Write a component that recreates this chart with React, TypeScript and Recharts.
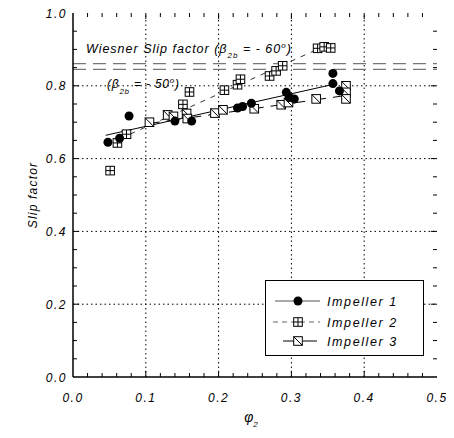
import React from 'react';
import {
  ScatterChart,
  Scatter,
  XAxis,
  YAxis,
  ReferenceLine,
  ReferenceDot,
  Legend,
  Label,
} from 'recharts';

// ---- data (phi_2 vs slip factor) ----
const impeller1 = [
  { x: 0.048, y: 0.645 }, { x: 0.064, y: 0.656 }, { x: 0.077, y: 0.717 },
  { x: 0.140, y: 0.703 }, { x: 0.163, y: 0.703 }, { x: 0.226, y: 0.739 },
  { x: 0.233, y: 0.743 }, { x: 0.245, y: 0.752 }, { x: 0.293, y: 0.782 },
  { x: 0.297, y: 0.768 }, { x: 0.304, y: 0.764 }, { x: 0.357, y: 0.834 },
  { x: 0.357, y: 0.806 }, { x: 0.366, y: 0.786 },
];
const impeller2 = [
  { x: 0.051, y: 0.567 }, { x: 0.061, y: 0.643 }, { x: 0.0735, y: 0.667 },
  { x: 0.151, y: 0.749 }, { x: 0.160, y: 0.783 }, { x: 0.208, y: 0.788 },
  { x: 0.226, y: 0.803 }, { x: 0.230, y: 0.818 }, { x: 0.270, y: 0.827 },
  { x: 0.279, y: 0.841 }, { x: 0.288, y: 0.855 }, { x: 0.336, y: 0.903 },
  { x: 0.345, y: 0.907 }, { x: 0.354, y: 0.904 },
];
const impeller3 = [
  { x: 0.105, y: 0.700 }, { x: 0.130, y: 0.720 }, { x: 0.138, y: 0.716 },
  { x: 0.156, y: 0.724 }, { x: 0.157, y: 0.710 }, { x: 0.195, y: 0.725 },
  { x: 0.206, y: 0.734 }, { x: 0.249, y: 0.737 }, { x: 0.286, y: 0.748 },
  { x: 0.296, y: 0.754 }, { x: 0.334, y: 0.764 }, { x: 0.375, y: 0.800 },
  { x: 0.375, y: 0.782 }, { x: 0.375, y: 0.764 },
];
const fit1 = [{ x: 0.045, y: 0.664 }, { x: 0.36, y: 0.805 }];
const fit2 = [{ x: 0.065, y: 0.655 }, { x: 0.33, y: 0.895 }];
const fit3 = [{ x: 0.10, y: 0.695 }, { x: 0.37, y: 0.772 }];
const wiesnerLevels = [0.861, 0.845];
const wiesner60Anchor = { x: 0.0178, y: 0.89 };
const wiesner50Anchor = { x: 0.0466, y: 0.795 };

const xMajorTicks = [0, 0.1, 0.2, 0.3, 0.4, 0.5];
const yMajorTicks = [0, 0.2, 0.4, 0.6, 0.8, 1.0];
const xMinorTicks = [0.02, 0.04, 0.06, 0.08, 0.12, 0.14, 0.16, 0.18, 0.22, 0.24, 0.26, 0.28,
  0.32, 0.34, 0.36, 0.38, 0.42, 0.44, 0.46, 0.48];
const yMinorTicks = [0.05, 0.1, 0.15, 0.25, 0.3, 0.35, 0.45, 0.5, 0.55, 0.65, 0.7, 0.75, 0.85, 0.9, 0.95];
const xGrid = [0.1, 0.2, 0.3, 0.4];
const yGrid = [0.2, 0.4, 0.6, 0.8];
const seriesNames = ['Impeller 1', 'Impeller 2', 'Impeller 3'];

const X_MIN = 0, X_MAX = 0.5, Y_MIN = 0, Y_MAX = 1;
// tick mark lengths expressed in axis units (inward ticks)
const XT_MAJOR = 0.017, XT_MINOR = 0.011; // vertical ticks (y units)
const YT_MAJOR = 0.0085, YT_MINOR = 0.0055; // horizontal ticks (x units)

const FONT = '"Liberation Sans", Arial, Helvetica, sans-serif';

const BottomTickLabel = (props: any) => {
  const x = Number(props.x);
  const y = Number(props.y);
  const v = Number(props.payload.value);
  return (
    <text x={x} y={y + 19} textAnchor="middle" fontFamily={FONT} fontStyle="italic"
      fontSize={12} letterSpacing={1.5} fill="#000" stroke="none">{v.toFixed(1)}</text>
  );
};
const LeftTickLabel = (props: any) => {
  const x = Number(props.x);
  const y = Number(props.y);
  const v = Number(props.payload.value);
  return (
    <text x={x} y={y + 4.5} textAnchor="end" fontFamily={FONT} fontStyle="italic"
      fontSize={12} letterSpacing={1.5} fill="#000" stroke="none">{v.toFixed(1)}</text>
  );
};

const CircleMark = (p: any) => <circle cx={p.cx} cy={p.cy} r={4.5} fill="#000" />;
const CrossSquare = (p: any) => {
  const s = 4.3;
  return (
    <g stroke="#000" strokeWidth={1}>
      <rect x={p.cx - s} y={p.cy - s} width={2 * s} height={2 * s} fill="#fff" />
      <line x1={p.cx} y1={p.cy - s} x2={p.cx} y2={p.cy + s} />
      <line x1={p.cx - s} y1={p.cy} x2={p.cx + s} y2={p.cy} />
    </g>
  );
};
const DiagSquare = (p: any) => {
  const s = 4.3;
  return (
    <g stroke="#000" strokeWidth={1}>
      <rect x={p.cx - s} y={p.cy - s} width={2 * s} height={2 * s} fill="#fff" />
      <line x1={p.cx - s} y1={p.cy - s} x2={p.cx + s} y2={p.cy + s} />
    </g>
  );
};
const NoMark = () => <g />;

const Wiesner60 = (p: any) => (
  <text x={p.cx} y={p.cy} fontFamily={FONT} fontStyle="italic" fontSize={12.5} letterSpacing={1} fill="#000">
    Wiesner Slip factor (β
    <tspan dy={5} fontSize={8}>2b</tspan>
    <tspan dy={-5}> = - 60</tspan>
    <tspan dy={-5} fontSize={8}>o</tspan>
    <tspan dy={5}>)</tspan>
  </text>
);
const Wiesner50 = (p: any) => (
  <text x={p.cx} y={p.cy} fontFamily={FONT} fontStyle="italic" fontSize={12} letterSpacing={0.8} fill="#000">
    (β
    <tspan dy={6} fontSize={8}>2b</tspan>
    <tspan dy={-6}> = - 50</tspan>
    <tspan dy={-5} fontSize={8}>o</tspan>
    <tspan dy={5}>)</tspan>
  </text>
);

const LegendBox = () => {
  const rows = [21, 42, 61];
  return (
    <svg width={160} height={77} style={{ display: 'block' }}>
      <rect x={0.5} y={0.5} width={158} height={75} fill="#fff" stroke="#000" strokeWidth={1} />
      <line x1={10} x2={55} y1={rows[0]} y2={rows[0]} stroke="#555" strokeWidth={1} />
      <CircleMark cx={33} cy={rows[0]} />
      <line x1={8} x2={55} y1={rows[1]} y2={rows[1]} stroke="#666" strokeWidth={1} strokeDasharray="5 4" />
      <CrossSquare cx={33} cy={rows[1]} />
      <line x1={18} x2={57} y1={rows[2]} y2={rows[2]} stroke="#000" strokeWidth={1} strokeDasharray="14 6" />
      <DiagSquare cx={33} cy={rows[2]} />
      {seriesNames.map((n, i) => (
        <text key={n} x={62} y={rows[i] + 4.5} fontFamily={FONT} fontStyle="italic" fontSize={12.5}
          letterSpacing={1.6} fill="#000">{n}</text>
      ))}
    </svg>
  );
};

const XLabel = (props: any) => {
  const vb = props.viewBox;
  const cx = vb.x + vb.width / 2;
  return (
    <text x={cx - 4} y={vb.y + 45} textAnchor="middle" fontFamily={FONT} fontStyle="italic" fontSize={14} fill="#000">
      φ<tspan dy={5} fontSize={8}>2</tspan>
    </text>
  );
};
const YLabel = (props: any) => {
  const vb = props.viewBox;
  const cy = vb.y + vb.height / 2;
  return (
    <text x={26} y={cy} transform={`rotate(-90 26 ${cy})`} textAnchor="middle" dominantBaseline="middle"
      fontFamily={FONT} fontStyle="italic" fontSize={12} letterSpacing={1.2} fill="#000">Slip factor</text>
  );
};

const tickSeg = (key: string, a: { x: number; y: number }, b: { x: number; y: number }) => (
  <ReferenceLine key={key} segment={[a, b]} stroke="#000" strokeWidth={1} ifOverflow="visible" />
);

export default function App() {
  const ticks: React.ReactNode[] = [];
  [...xMajorTicks.slice(1, -1), ...xMinorTicks].forEach((v) => {
    const len = xMajorTicks.includes(v) ? XT_MAJOR : XT_MINOR;
    ticks.push(tickSeg('tb' + v, { x: v, y: Y_MIN }, { x: v, y: Y_MIN + len }));
    ticks.push(tickSeg('tt' + v, { x: v, y: Y_MAX }, { x: v, y: Y_MAX - len }));
  });
  [...yMajorTicks.slice(1, -1), ...yMinorTicks].forEach((v) => {
    const len = yMajorTicks.includes(v) ? YT_MAJOR : YT_MINOR;
    ticks.push(tickSeg('tl' + v, { x: X_MIN, y: v }, { x: X_MIN + len, y: v }));
    ticks.push(tickSeg('tr' + v, { x: X_MAX, y: v }, { x: X_MAX - len, y: v }));
  });

  return (
    <ScatterChart width={446} height={430} margin={{ top: 5, right: 17, bottom: 0, left: 0 }}
      style={{ background: '#fff' }}>
      <XAxis type="number" dataKey="x" domain={[X_MIN, X_MAX]} ticks={xMajorTicks} interval={0}
        tickSize={4} tickMargin={2} tickLine={false} tick={BottomTickLabel}
        axisLine={{ stroke: '#000', strokeWidth: 1.5 }} height={61} allowDataOverflow>
        <Label content={XLabel} />
      </XAxis>
      <XAxis xAxisId="top" orientation="top" type="number" domain={[X_MIN, X_MAX]} tick={false} tickLine={false}
        axisLine={{ stroke: '#000', strokeWidth: 1.5 }} height={0} allowDataOverflow />
      <YAxis type="number" dataKey="y" domain={[Y_MIN, Y_MAX]} ticks={yMajorTicks} interval={0}
        tickSize={4} tickMargin={2} tickLine={false} tick={LeftTickLabel}
        axisLine={{ stroke: '#000', strokeWidth: 1.5 }} width={65} allowDataOverflow>
        <Label content={YLabel} />
      </YAxis>
      <YAxis yAxisId="right" orientation="right" type="number" domain={[Y_MIN, Y_MAX]} tick={false} tickLine={false}
        axisLine={{ stroke: '#000', strokeWidth: 1.5 }} width={0} allowDataOverflow />

      {xGrid.map((v) => (
        <ReferenceLine key={'gx' + v} x={v} stroke="#000" strokeWidth={1} strokeDasharray="1.5 3" />
      ))}
      {yGrid.map((v) => (
        <ReferenceLine key={'gy' + v} y={v} stroke="#000" strokeWidth={1} strokeDasharray="1.5 3" />
      ))}
      {wiesnerLevels.map((v) => (
        <ReferenceLine key={'w' + v} y={v} stroke="#777" strokeWidth={1.3} strokeDasharray="13 7" />
      ))}
      {ticks}

      <Scatter data={fit1} line={{ stroke: '#000', strokeWidth: 1 }} lineType="joint" shape={NoMark}
        isAnimationActive={false} legendType="none" />
      <Scatter data={fit2} line={{ stroke: '#333', strokeWidth: 1, strokeDasharray: '5 6' }} lineType="joint"
        shape={NoMark} isAnimationActive={false} legendType="none" />
      <Scatter data={fit3} line={{ stroke: '#000', strokeWidth: 1, strokeDasharray: '14 7' }} lineType="joint"
        shape={NoMark} isAnimationActive={false} legendType="none" />

      <Scatter name="Impeller 2" data={impeller2} shape={CrossSquare} isAnimationActive={false} />
      <Scatter name="Impeller 3" data={impeller3} shape={DiagSquare} isAnimationActive={false} />
      <Scatter name="Impeller 1" data={impeller1} shape={CircleMark} isAnimationActive={false} />

      <ReferenceDot x={wiesner60Anchor.x} y={wiesner60Anchor.y} r={0} shape={Wiesner60} />
      <ReferenceDot x={wiesner50Anchor.x} y={wiesner50Anchor.y} r={0} shape={Wiesner50} />

      <Legend layout="horizontal" verticalAlign="middle" align="center" content={LegendBox}
        wrapperStyle={{ position: 'absolute', left: 257, top: 272, width: 160, height: 77 }} />
    </ScatterChart>
  );
}
